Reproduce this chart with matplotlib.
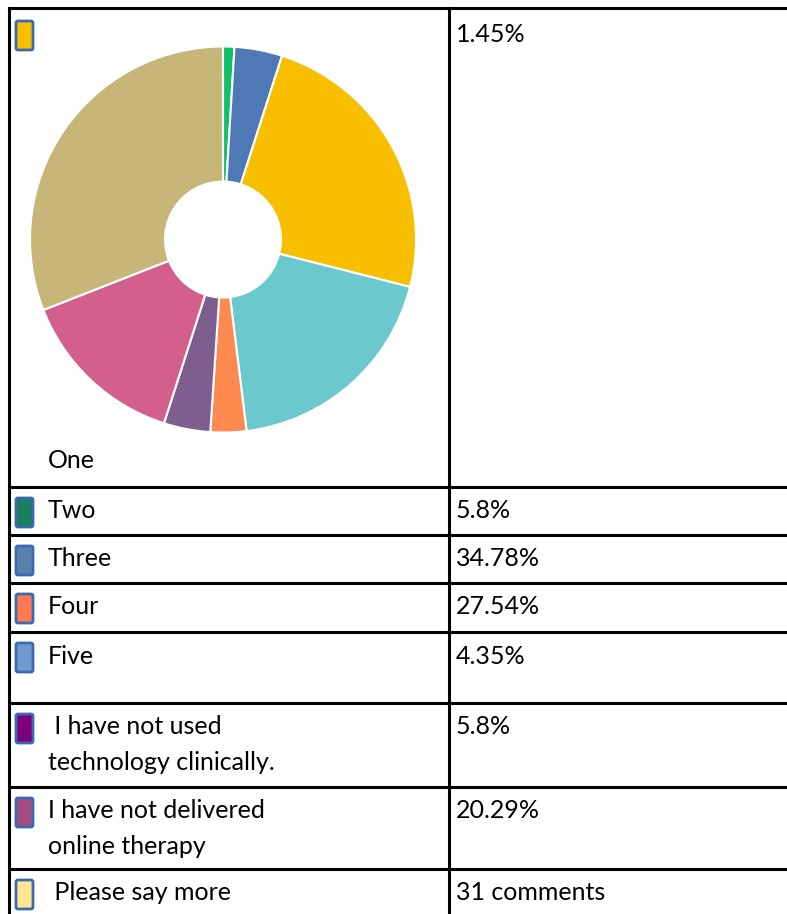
import matplotlib.pyplot as plt
from matplotlib.patches import FancyBboxPatch

# table rows: label, value text, swatch colour
labels = ["One", "Two", "Three", "Four", "Five",
          " I have not used\ntechnology clinically.",
          "I have not delivered\nonline therapy",
          " Please say more"]
values = ["1.45%", "5.8%", "34.78%", "27.54%", "4.35%", "5.8%", "20.29%", "31 comments"]
swatch_colors = ["#F8BF00", "#1A7F5E", "#5A80AE", "#FF7A52", "#6F9BD0",
                 "#7B0079", "#A44D81", "#FFE694"]

# donut slices, clockwise from 12 o'clock (percent of the ring)
pie_shares = [0.95, 4.0, 24.0, 19.1, 3.0, 3.9, 14.1, 30.95]
pie_colors = ["#12C06A", "#4E79B4", "#F8BF00", "#6BC8CC", "#FF8A50",
              "#7E5E8E", "#D25F8C", "#C8B678"]

W, H = 787, 914
fig = plt.figure(figsize=(W / 100, H / 100), dpi=100)
plt.rcParams['font.family'] = ['Lato', 'DejaVu Sans']

ax = fig.add_axes([0, 0, 1, 1])
ax.set_xlim(0, W)
ax.set_ylim(H, 0)
ax.axis('off')

# grid lines of the table
row_tops = [8, 487, 535, 583, 632, 703, 787, 869]
left, mid = 9, 449
lw = 2.2
for y in row_tops:
    ax.plot([left - 1, W], [y, y], color="black", lw=lw, solid_capstyle="butt")
ax.plot([left, left], [row_tops[0], H], color="black", lw=lw)
ax.plot([mid, mid], [row_tops[0], H], color="black", lw=lw)

fs = 18
for i, (lab, val, col) in enumerate(zip(labels, values, swatch_colors)):
    top = row_tops[i]
    sw_top = top + (12 if i == 0 else 10)
    ax.add_patch(FancyBboxPatch((16, sw_top + 1), 17, 29,
                                boxstyle="round,pad=0,rounding_size=2",
                                facecolor=col, edgecolor="#3A6BAF", lw=2))
    text_y = top + (26 if i == 0 else 24)
    ax.text(456, text_y, val, fontsize=fs, va="center", ha="left")
    if i == 0:
        ax.text(48, 461, lab, fontsize=fs, va="center", ha="left")
        continue
    for k, line in enumerate(lab.split("\n")):
        ax.text(48, text_y + k * 36, line, fontsize=fs, va="center", ha="left")

# donut chart
cx, cy, r = 223, 239.5, 193
pax = fig.add_axes([(cx - r) / W, 1 - (cy + r) / H, 2 * r / W, 2 * r / H])
pax.pie(pie_shares, colors=pie_colors, startangle=90, counterclock=False,
        radius=1, wedgeprops=dict(width=1 - 58 / 193, edgecolor="white", linewidth=1.5))
pax.set_xlim(-1, 1)
pax.set_ylim(-1, 1)
pax.axis('off')

fig.savefig("out.png", dpi=100)
